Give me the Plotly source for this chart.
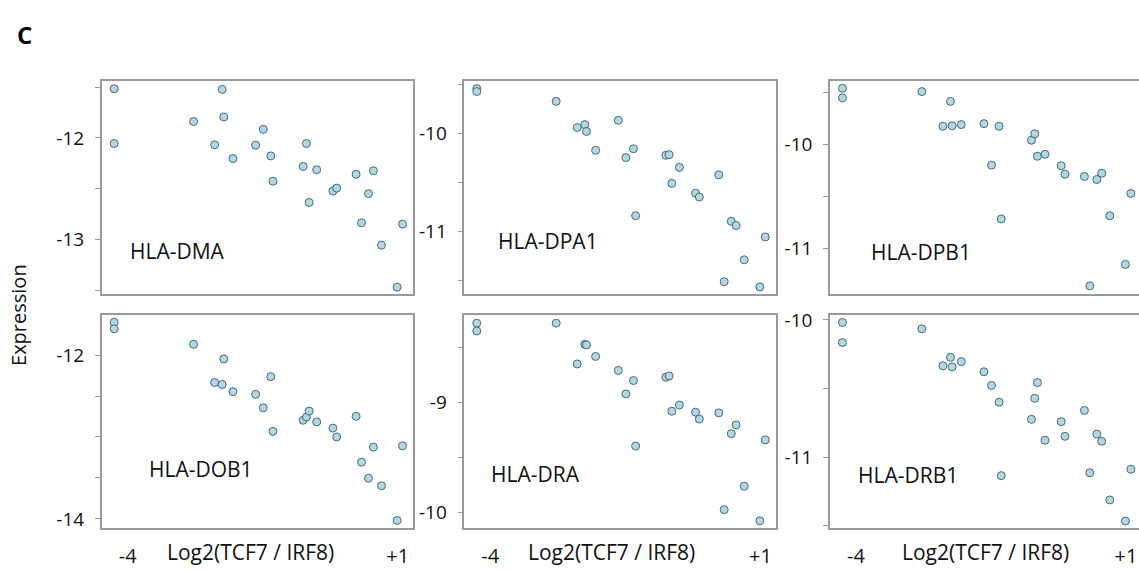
import plotly.graph_objects as go

# ---------------- data ----------------
x_vals = [-4.25, -4.25, -2.78, -2.39, -2.25, -2.22, -2.05, -1.63, -1.49, -1.35, -1.31,
          -0.75, -0.69, -0.64, -0.50, -0.20, -0.13, 0.23, 0.33, 0.46, 0.55, 0.70, 0.99, 1.09]

genes = ["HLA-DMA", "HLA-DPA1", "HLA-DPB1", "HLA-DOB1", "HLA-DRA", "HLA-DRB1"]

y_dma = [-11.516, -12.055, -11.839, -12.068, -11.523, -11.794, -12.203, -12.071, -11.916, -12.177,
         -12.426, -12.281, -12.055, -12.635, -12.313, -12.523, -12.494, -12.358, -12.835, -12.548,
         -12.323, -13.055, -13.468, -12.848]
y_dpa1 = [-9.543, -9.573, -9.673, -9.94, -9.91, -9.98, -10.173, -9.867, -10.247, -10.157,
          -10.84, -10.223, -10.217, -10.51, -10.347, -10.61, -10.65, -10.423, -11.513, -10.897,
          -10.94, -11.29, -11.567, -11.057]
y_dpb1 = [-9.464, -9.555, -9.495, -9.828, -9.589, -9.824, -9.812, -9.803, -10.201, -9.828,
          -10.718, -9.962, -9.9, -10.116, -10.097, -10.207, -10.288, -10.31, -11.36, -10.339,
          -10.279, -10.687, -11.154, -10.473]
y_dob1 = [-11.6, -11.68, -11.868, -12.336, -12.36, -12.048, -12.448, -12.48, -12.644, -12.264,
          -12.932, -12.796, -12.756, -12.684, -12.816, -12.892, -13.0, -12.748, -13.308, -13.504,
          -13.124, -13.596, -14.02, -13.108]
y_dra = [-8.281, -8.352, -8.281, -8.651, -8.473, -8.479, -8.583, -8.710, -8.923, -8.802,
         -9.396, -8.772, -8.760, -9.080, -9.024, -9.089, -9.151, -9.095, -9.973, -9.284,
         -9.204, -9.760, -10.074, -9.340]
y_drb1 = [-10.019, -10.165, -10.065, -10.335, -10.273, -10.342, -10.304, -10.378, -10.478, -10.600,
          -11.136, -10.725, -10.572, -10.457, -10.878, -10.742, -10.849, -10.660, -11.115, -10.833,
          -10.885, -11.313, -11.467, -11.089]

y_series = [y_dma, y_dpa1, y_dpb1, y_dob1, y_dra, y_drb1]

# y axis ranges and ticks per panel
y_ranges = [(-13.539, -11.441), (-11.643, -9.466), (-11.442, -9.394),
            (-14.115, -11.511), (-10.142, -8.207), (-11.52, -9.964)]
y_tickvals = [[-11.5, -12, -12.5, -13, -13.5],
              [-9.5, -10, -10.5, -11, -11.5],
              [-9.5, -10, -10.5, -11],
              [-12, -12.5, -13, -13.5, -14],
              [-8.5, -9, -9.5, -10],
              [-10, -10.5, -11, -11.5]]
y_ticktext = [["", "-12", "", "-13", ""],
              ["", "-10", "", "-11", ""],
              ["", "-10", "", "-11"],
              ["-12", "", "", "", "-14"],
              ["", "-9", "", "-10"],
              ["-10", "", "-11", ""]]

x_tickvals = [-4, 1]
x_ticktext = ["-4", "+1"]
x_title = "Log2(TCF7 / IRF8)"
y_title = "Expression"
panel_letter = "C"

# ---------------- layout geometry ----------------
W, H = 1139, 572
col_px = [(101.7, 413.3), (464.3, 776.0), (830.0, 1139.0)]
row_px = [(74.5, 292.0), (313.0, 530.5)]
x_range = [-4.481, 1.289]

label_pos = [(0.083, 0.204), (0.102, 0.251), (0.126, 0.201),
             (0.146, 0.278), (0.080, 0.255), (0.084, 0.251)]
xtitle_pos = [0.476, 0.473, 0.502]

FONT = "Open Sans"
BOX = "#999999"
TXT = "#111111"

fig = go.Figure()
layout = dict(width=W, height=H, margin=dict(l=0, r=0, t=0, b=0),
              paper_bgcolor="white", plot_bgcolor="white", showlegend=False,
              font=dict(family=FONT, size=18, color=TXT))
annotations = []

for i in range(6):
    r, c = divmod(i, 3)
    n = i + 1
    xa = "xaxis" if n == 1 else f"xaxis{n}"
    ya = "yaxis" if n == 1 else f"yaxis{n}"
    xr = "x" if n == 1 else f"x{n}"
    yr = "y" if n == 1 else f"y{n}"
    x0, x1 = col_px[c]
    t, b = row_px[r]
    xdom = [x0 / W, min(x1 / W, 1.0)]
    ydom = [1 - b / H, 1 - t / H]
    rng = list(x_range)
    if c == 2:
        rng[1] = x_range[0] + (x1 - x0) / (col_px[0][1] - col_px[0][0]) * (x_range[1] - x_range[0])
    layout[xa] = dict(domain=xdom, range=rng, anchor=yr, showgrid=False, zeroline=False,
                      showline=True, mirror=True, linecolor=BOX, linewidth=1.5,
                      tickvals=x_tickvals if r == 1 else [], ticktext=x_ticktext if r == 1 else [],
                      ticks="", ticklabelstandoff=9, tickfont=dict(size=20, family=FONT, color=TXT))
    layout[ya] = dict(domain=ydom, range=list(y_ranges[i]), anchor=xr, showgrid=False, zeroline=False,
                      showline=True, mirror=(c != 2), linecolor=BOX, linewidth=1.5,
                      tickvals=y_tickvals[i], ticktext=y_ticktext[i],
                      ticks="outside", ticklen=5, tickcolor=BOX, tickwidth=1,
                      ticklabelstandoff=7, tickfont=dict(size=19, family=FONT, color=TXT))
    fig.add_trace(go.Scatter(x=x_vals, y=y_series[i], mode="markers", xaxis=xr, yaxis=yr,
                             cliponaxis=False,
                             marker=dict(size=8, color="#aed8e4",
                                         line=dict(color="#3d5a68", width=0.9))))
    lx, ly = label_pos[i]
    annotations.append(dict(text=genes[i], xref=f"{xr} domain", yref=f"{yr} domain",
                            x=lx, y=ly, xanchor="left", yanchor="middle", showarrow=False,
                            font=dict(size=21, family=FONT, color=TXT)))
    if r == 1:
        annotations.append(dict(text=x_title, xref=f"{xr} domain", yref=f"{yr} domain",
                                x=xtitle_pos[c], y=-0.113, xanchor="center", yanchor="middle",
                                showarrow=False, font=dict(size=21, family=FONT, color=TXT)))

annotations.append(dict(text=y_title, xref="paper", yref="paper", x=19 / W, y=1 - 313 / H,
                        textangle=-90, xanchor="center", yanchor="middle", showarrow=False,
                        font=dict(size=20, family=FONT, color=TXT)))
annotations.append(dict(text="<b>" + panel_letter + "</b>", xref="paper", yref="paper",
                        x=24 / W, y=1 - 27 / H, xanchor="center", yanchor="middle", showarrow=False,
                        font=dict(size=24, family=FONT, color="#000")))
layout["annotations"] = annotations
fig.update_layout(**layout)
fig.write_html("out.html")
